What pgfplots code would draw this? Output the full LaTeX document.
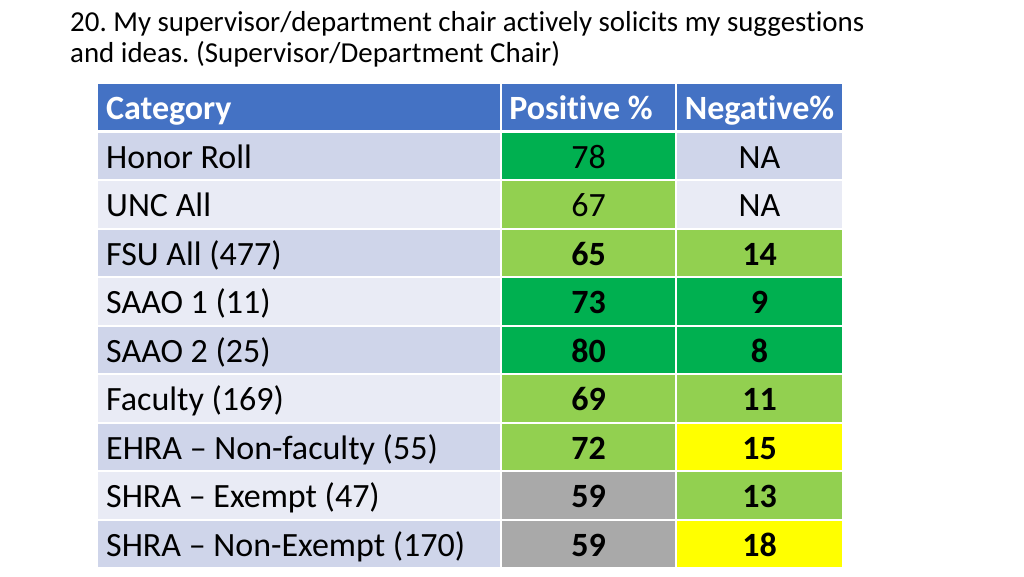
\documentclass[border=0pt]{standalone}
\usepackage{pgfplots}
\usepackage{pgfplotstable}
\pgfplotsset{compat=1.18}
\usepackage{fontspec}
\setmainfont{Carlito}[Ligatures=NoCommon]
\frenchspacing
\definecolor{hdr}{HTML}{4472C4}
\definecolor{bandA}{HTML}{CFD5EA}
\definecolor{bandB}{HTML}{E9EBF5}
\definecolor{dgreen}{HTML}{00B050}
\definecolor{lgreen}{HTML}{92D050}
\definecolor{yel}{HTML}{FFFF00}
\definecolor{gry}{HTML}{A9A9A9}

% reference rows (no respondent counts)
\pgfplotstableread[col sep=comma]{
row,cat,pos,neg
1,Honor Roll,78,NA
2,UNC All,67,NA
}\refdata
% FSU rows
\pgfplotstableread[col sep=comma]{
row,cat,pos,neg
3,FSU All (477),65,14
4,SAAO 1 (11),73,9
5,SAAO 2 (25),80,8
6,Faculty (169),69,11
7,EHRA – Non-faculty (55),72,15
8,SHRA – Exempt (47),59,13
9,SHRA – Non-Exempt (170),59,18
}\fsudata

\newcommand\cell[4]{%
  \pgfmathsetmacro\ya{#3-0.5}\pgfmathsetmacro\yb{#3+0.5}%
  \addplot[fill=#4, draw=white, line width=2pt] coordinates {(#1,\ya) (#2,\ya) (#2,\yb) (#1,\yb)} -- cycle;}

\begin{document}
\begin{tikzpicture}
\begin{axis}[
  width=1024pt, height=576pt, scale only axis,
  xmin=0, xmax=1024, ymin=-2.2113, ymax=9.665,
  y dir=reverse, hide axis, clip=false,
]
\path (rel axis cs:0,0) rectangle (rel axis cs:1,1);
% header
\cell{97}{501}{0}{hdr}
\cell{501}{676}{0}{hdr}
\cell{676}{843}{0}{hdr}
% category column banding
\cell{97}{501}{1}{bandA}
\cell{97}{501}{2}{bandB}
\cell{97}{501}{3}{bandA}
\cell{97}{501}{4}{bandB}
\cell{97}{501}{5}{bandA}
\cell{97}{501}{6}{bandB}
\cell{97}{501}{7}{bandA}
\cell{97}{501}{8}{bandB}
\cell{97}{501}{9}{bandA}
% positive column
\cell{501}{676}{1}{dgreen}
\cell{501}{676}{2}{lgreen}
\cell{501}{676}{3}{lgreen}
\cell{501}{676}{4}{dgreen}
\cell{501}{676}{5}{dgreen}
\cell{501}{676}{6}{lgreen}
\cell{501}{676}{7}{lgreen}
\cell{501}{676}{8}{gry}
\cell{501}{676}{9}{gry}
% negative column
\cell{676}{843}{1}{bandA}
\cell{676}{843}{2}{bandB}
\cell{676}{843}{3}{lgreen}
\cell{676}{843}{4}{dgreen}
\cell{676}{843}{5}{dgreen}
\cell{676}{843}{6}{lgreen}
\cell{676}{843}{7}{yel}
\cell{676}{843}{8}{lgreen}
\cell{676}{843}{9}{yel}
% thicker separator under header
\addplot[draw=white, line width=3pt] coordinates {(97,0.5) (843,0.5)};

% header texts
\node[anchor=base west, inner sep=0pt, text=white, font=\fontsize{34}{40}\selectfont\bfseries, yshift=-12.5pt] at (axis cs:106,0) {Category};
\node[anchor=base, inner sep=0pt, text=white, font=\fontsize{34}{40}\selectfont\bfseries, yshift=-12.5pt] at (axis cs:581,0) {Positive \%};
\node[anchor=base, inner sep=0pt, text=white, font=\fontsize{34}{40}\selectfont\bfseries, yshift=-12.5pt] at (axis cs:759.5,0) {Negative\%};

% categories
\addplot[draw=none, mark=none, nodes near coords, point meta=explicit symbolic,
  every node near coord/.style={anchor=base west, font=\fontsize{34}{40}\selectfont, yshift=-12.5pt, inner sep=0pt}]
  table[x expr=106, y=row, meta=cat] {\refdata};
\addplot[draw=none, mark=none, nodes near coords, point meta=explicit symbolic,
  every node near coord/.style={anchor=base west, font=\fontsize{34}{40}\selectfont, yshift=-12.5pt, inner sep=0pt}]
  table[x expr=106, y=row, meta=cat] {\fsudata};
% values
\addplot[draw=none, mark=none, nodes near coords, point meta=explicit symbolic,
  every node near coord/.style={anchor=base, font=\fontsize{34}{40}\selectfont, yshift=-12.5pt, inner sep=0pt}]
  table[x expr=588.5, y=row, meta=pos] {\refdata};
\addplot[draw=none, mark=none, nodes near coords, point meta=explicit symbolic,
  every node near coord/.style={anchor=base, font=\fontsize{34}{40}\selectfont, yshift=-12.5pt, inner sep=0pt}]
  table[x expr=759.5, y=row, meta=neg] {\refdata};
\addplot[draw=none, mark=none, nodes near coords, point meta=explicit symbolic,
  every node near coord/.style={anchor=base, font=\fontsize{34}{40}\selectfont\bfseries, yshift=-12.5pt, inner sep=0pt}]
  table[x expr=588.5, y=row, meta=pos] {\fsudata};
\addplot[draw=none, mark=none, nodes near coords, point meta=explicit symbolic,
  every node near coord/.style={anchor=base, font=\fontsize{34}{40}\selectfont\bfseries, yshift=-12.5pt, inner sep=0pt}]
  table[x expr=759.5, y=row, meta=neg] {\fsudata};

% title
\node[anchor=base west, inner sep=0pt, font=\fontsize{28.9}{34}\selectfont] at (axis cs:70,-1.572) {20. My supervisor/department chair actively solicits my suggestions};
\node[anchor=base west, inner sep=0pt, font=\fontsize{28.9}{34}\selectfont] at (axis cs:70,-0.913) {and ideas. (Supervisor/Department Chair)};
\end{axis}
\end{tikzpicture}
\end{document}
